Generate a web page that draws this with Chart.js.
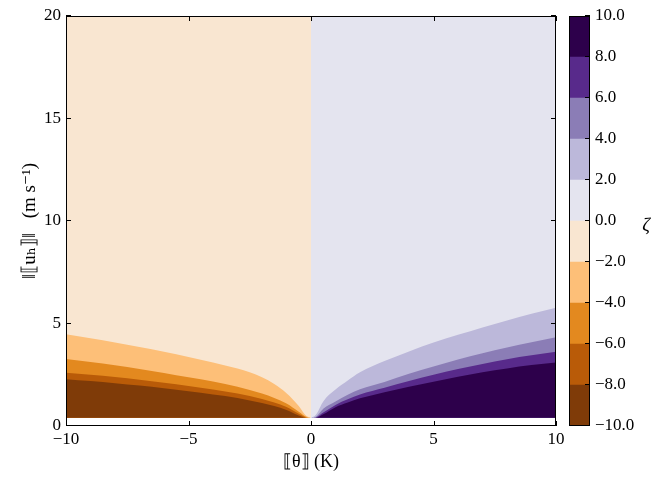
<!DOCTYPE html>
<html>
<head>
<meta charset="utf-8">
<script src="https://cdn.jsdelivr.net/npm/chart.js@4"></script>
<style>
  body { margin: 0; background: #fff; }
  #wrap { position: relative; width: 652px; height: 479px; }
  #main { position: absolute; left: 0; top: 0; }
  #bar { position: absolute; left: 560px; top: 0; }
</style>
</head>
<body>
<div id="wrap">
  <canvas id="main" width="580" height="479"></canvas>
  <canvas id="bar" width="92" height="479"></canvas>
</div>
<script>
// contour boundaries: u (m/s) where zeta crosses each level
const thetaLeft = [-10, -9, -8, -7, -6, -5, -4, -3, -2, -1.5, -1, -0.5, -0.2, 0];
const uNeg8 = [2.28, 2.19, 2.09, 1.97, 1.84, 1.69, 1.54, 1.37, 1.12, 0.97, 0.78, 0.51, 0.40, 0.4];
const uNeg6 = [2.60, 2.50, 2.39, 2.26, 2.11, 1.95, 1.78, 1.58, 1.32, 1.15, 0.93, 0.60, 0.42, 0.4];
const uNeg4 = [3.27, 3.12, 2.96, 2.78, 2.59, 2.38, 2.17, 1.92, 1.59, 1.37, 1.10, 0.70, 0.45, 0.4];
const uNeg2 = [4.47, 4.28, 4.07, 3.85, 3.62, 3.37, 3.10, 2.80, 2.38, 2.05, 1.60, 0.98, 0.50, 0.4];

const thetaRight = [0, 0.2, 0.5, 1, 1.5, 2, 3, 4, 5, 6, 7, 8, 9, 10];
const uPos8 = [0.4, 0.40, 0.57, 0.92, 1.15, 1.35, 1.65, 1.92, 2.16, 2.40, 2.62, 2.81, 2.97, 3.10];
const uPos6 = [0.4, 0.42, 0.66, 1.03, 1.30, 1.54, 1.87, 2.20, 2.50, 2.78, 3.03, 3.26, 3.45, 3.62];
const uPos4 = [0.4, 0.45, 0.84, 1.20, 1.52, 1.79, 2.15, 2.55, 2.90, 3.24, 3.55, 3.83, 4.08, 4.33];
const uPos2 = [0.4, 0.55, 1.20, 1.78, 2.22, 2.62, 3.17, 3.64, 4.07, 4.45, 4.81, 5.15, 5.47, 5.77];

const uFloor = 0.4;
const uTop = 20;

const zetaLevels = [-10, -8, -6, -4, -2, 0, 2, 4, 6, 8, 10];
const bandColors = ['#7f3b08', '#b95b08', '#e3891f', '#fdbf78', '#f9e6d1',
                    '#e4e4ef', '#bcb8da', '#8b7db6', '#582a8b', '#2d004b'];

const serif = '"Liberation Serif", "DejaVu Serif", serif';
const fmt = (v) => String(v).replace('-', '\u2212');

function band(xs, us, color) {
    return {
        data: xs.map((x, i) => ({ x, y: us[i] })),
        backgroundColor: color,
        borderWidth: 0,
        pointRadius: 0,
        fill: { value: uFloor },
        cubicInterpolationMode: 'monotone',
    };
}

// box round the plot area with short inward ticks, like the original
const frame = {
    id: 'frame',
    afterDraw(chart, args, opts) {
        const { ctx, chartArea: a, scales } = chart;
        const len = 5;
        ctx.save();
        ctx.strokeStyle = '#000';
        ctx.lineWidth = 1;
        ctx.strokeRect(a.left + 0.5, a.top + 0.5, a.right - a.left - 1, a.bottom - a.top - 1);
        ctx.beginPath();
        if (opts.x) {
            scales.x.ticks.forEach((t) => {
                const p = Math.round(scales.x.getPixelForValue(t.value)) + 0.5;
                ctx.moveTo(p, a.bottom); ctx.lineTo(p, a.bottom - len);
                ctx.moveTo(p, a.top); ctx.lineTo(p, a.top + len);
            });
        }
        if (opts.y) {
            scales.y.ticks.forEach((t) => {
                const p = Math.round(scales.y.getPixelForValue(t.value)) - 0.5;
                if (opts.left) { ctx.moveTo(a.left, p); ctx.lineTo(a.left + len, p); }
                ctx.moveTo(a.right, p); ctx.lineTo(a.right - len, p);
            });
        }
        ctx.stroke();
        if (opts.label) {
            ctx.fillStyle = '#000';
            ctx.font = 'italic 19px ' + serif;
            ctx.textAlign = 'center';
            ctx.textBaseline = 'middle';
            ctx.fillText(opts.label, 86, 226);
        }
        ctx.restore();
    },
};

const tickFont = { family: serif, size: 17 };
const titleFont = { family: serif, size: 19 };

new Chart(document.getElementById('main'), {
    type: 'line',
    data: {
        datasets: [
            band(thetaLeft, uNeg8, bandColors[0]),
            band(thetaLeft, uNeg6, bandColors[1]),
            band(thetaLeft, uNeg4, bandColors[2]),
            band(thetaLeft, uNeg2, bandColors[3]),
            band(thetaLeft, thetaLeft.map(() => uTop), bandColors[4]),
            band(thetaRight, uPos8, bandColors[9]),
            band(thetaRight, uPos6, bandColors[8]),
            band(thetaRight, uPos4, bandColors[7]),
            band(thetaRight, uPos2, bandColors[6]),
            band(thetaRight, thetaRight.map(() => uTop), bandColors[5]),
        ],
    },
    options: {
        responsive: false,
        animation: false,
        layout: { padding: { top: 16, right: 24, left: 0, bottom: 0 } },
        plugins: {
            legend: { display: false },
            tooltip: { enabled: false },
            frame: { x: true, y: true, left: true },
        },
        scales: {
            x: {
                type: 'linear', min: -10, max: 10,
                ticks: { stepSize: 5, padding: 3, color: '#000', font: tickFont, maxRotation: 0, callback: fmt },
                grid: { display: false, drawTicks: false },
                border: { display: false },
                title: { display: true, text: '\u27e6\u03b8\u27e7 (K)', color: '#000', font: { family: serif, size: 18 }, padding: { top: 0, bottom: 6 } },
                afterFit(s) { s.height = 53; },
            },
            y: {
                min: 0, max: 20,
                ticks: { stepSize: 5, padding: 5, color: '#000', font: tickFont, callback: fmt },
                grid: { display: false, drawTicks: false },
                border: { display: false },
                title: { display: true, text: '\u2016\u27e6u\u2095\u27e7\u2016   (m s\u207b\u00b9)', color: '#000', font: titleFont, padding: { top: 19, bottom: 0 } },
                afterFit(s) { s.width = 66; },
            },
        },
    },
    plugins: [frame],
});

new Chart(document.getElementById('bar'), {
    type: 'bar',
    data: {
        labels: ['\u03b6'],
        datasets: bandColors.map((c, i) => ({
            data: [[zetaLevels[i], zetaLevels[i + 1]]],
            backgroundColor: c,
            borderWidth: 0,
            barPercentage: 1,
            categoryPercentage: 1,
            grouped: false,
        })),
    },
    options: {
        responsive: false,
        animation: false,
        layout: { padding: { top: 16, left: 9, bottom: 53, right: 0 } },
        plugins: {
            legend: { display: false },
            tooltip: { enabled: false },
            frame: { y: true, label: '\u03b6' },
        },
        scales: {
            x: { display: false },
            y: {
                position: 'right', min: -10, max: 10,
                ticks: { stepSize: 2, padding: 5, color: '#000', font: tickFont, callback: (v) => fmt(v.toFixed(1)) },
                grid: { display: false, drawTicks: false },
                border: { display: false },
                afterFit(s) { s.width = 62; },
            },
        },
    },
    plugins: [frame],
});
</script>
</body>
</html>
